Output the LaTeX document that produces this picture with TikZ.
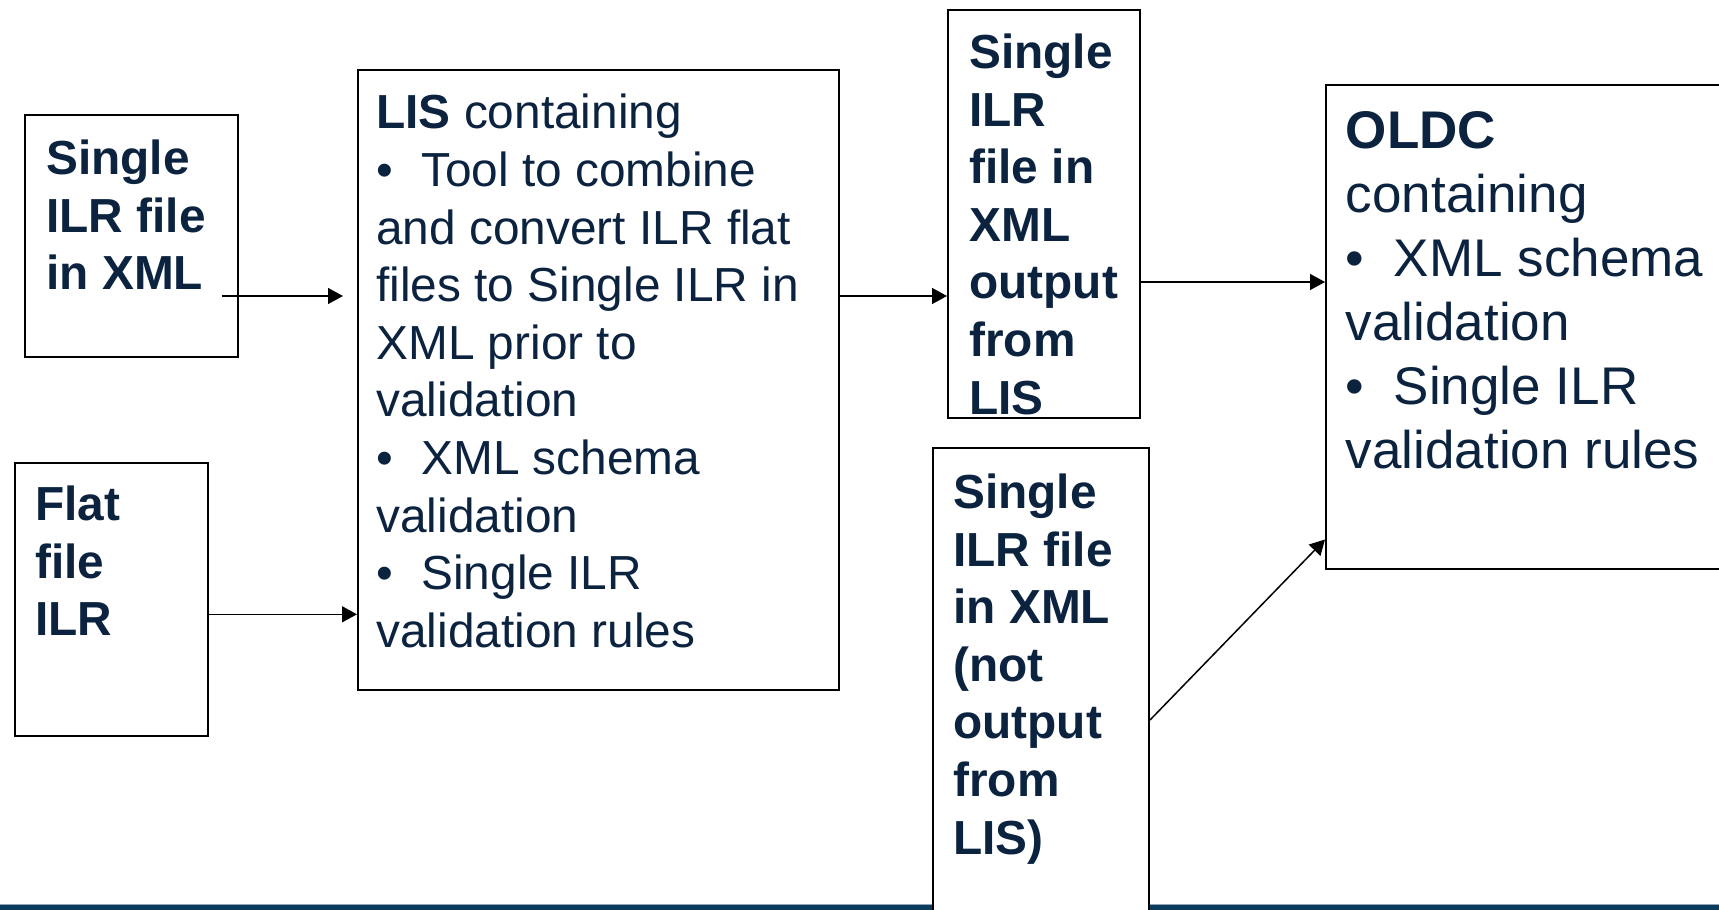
\documentclass[tikz,border=0pt]{standalone}
\usepackage{fontspec}
\setmainfont{Liberation Sans}
\usetikzlibrary{arrows.meta}
\definecolor{navy}{HTML}{0C2340}
\definecolor{barblue}{HTML}{0B3C60}
\newcommand\mybul[1]{\makebox[#1][l]{•}}
\begin{document}
\begin{tikzpicture}[x=0.5pt,y=-0.5pt,
  box/.style={draw=black, line width=1pt, fill=white, rectangle, inner sep=0pt},
  txt/.style={anchor=north west, inner sep=0pt, align=left, text=navy,
    font=\fontsize{23.9}{28.8}\selectfont},
  txtb/.style={txt, font=\fontsize{23.9}{28.8}\selectfont\bfseries},
  bigtxt/.style={txt, font=\fontsize{26.5}{32}\selectfont},
  arr/.style={line width=0.75pt, -{Triangle[length=7.5pt,width=8pt]}}]
\clip (0,0) rectangle (1719,910);
\fill[white] (0,0) rectangle (1719,910);
% bottom bar
\fill[barblue!45] (0,903.5) rectangle (1719,905);
\fill[barblue] (0,905) rectangle (1719,910);
% boxes
\node[box, minimum width=106.25pt, minimum height=121pt] (A) at (131.25,236) {};
\node[box, minimum width=96.25pt, minimum height=136.5pt] (B) at (111.25,599.5) {};
\node[box, minimum width=240.25pt, minimum height=310.25pt] (LIS) at (598.25,379.75) {};
\node[box, minimum width=96pt, minimum height=204.25pt] (C) at (1044,213.75) {};
\node[box, minimum width=108pt, minimum height=246pt] (D) at (1041,694) {};
\node[box, minimum width=217pt, minimum height=242pt] (OLDC) at (1543,327) {};
% texts
\node[txtb] (At) at (46,134) {\rule{0pt}{20pt}Single\\ILR file\\in XML};
\node[txtb] (Bt) at (35,480) {\rule{0pt}{20pt}Flat\\file\\ILR};
\node[txt] (Lt) at (376,88.5) {\rule{0pt}{20pt}\textbf{LIS} containing\\\mybul{22.5pt}Tool to combine\\and convert ILR flat\\files to Single ILR in\\XML prior to\\validation\\\mybul{22.5pt}XML schema\\validation\\\mybul{22.5pt}Single ILR\\validation rules};
\node[txtb] (Ct) at (969,28) {\rule{0pt}{20pt}Single\\ILR\\file in\\XML\\output\\from\\LIS};
\node[txtb] (Dt) at (953,468) {\rule{0pt}{20pt}Single\\ILR file\\in XML\\(not\\output\\from\\LIS)};
\node[bigtxt] (Ot) at (1345.5,104) {\rule{0pt}{22pt}\textbf{OLDC}\\containing\\\mybul{24pt}XML schema\\validation\\\mybul{24pt}Single ILR\\validation rules};
% connector levels
\coordinate (aout) at (221.6,296);
\coordinate (lisin) at (343,296);
\coordinate (yB) at (0,614.3);
\coordinate (yL) at (0,296);
\coordinate (yC) at (0,282);
\coordinate (yD) at (0,720);
\coordinate (yO) at (0,539.5);
% arrows
\draw[arr] (aout) -- (lisin);
\draw[arr] (B.east |- yB) -- (LIS.west |- yB);
\draw[arr] (LIS.east |- yL) -- (C.west |- yL);
\draw[arr] (C.east |- yC) -- (OLDC.west |- yC);
\draw[arr] (D.east |- yD) -- (OLDC.west |- yO);
\end{tikzpicture}
\end{document}
